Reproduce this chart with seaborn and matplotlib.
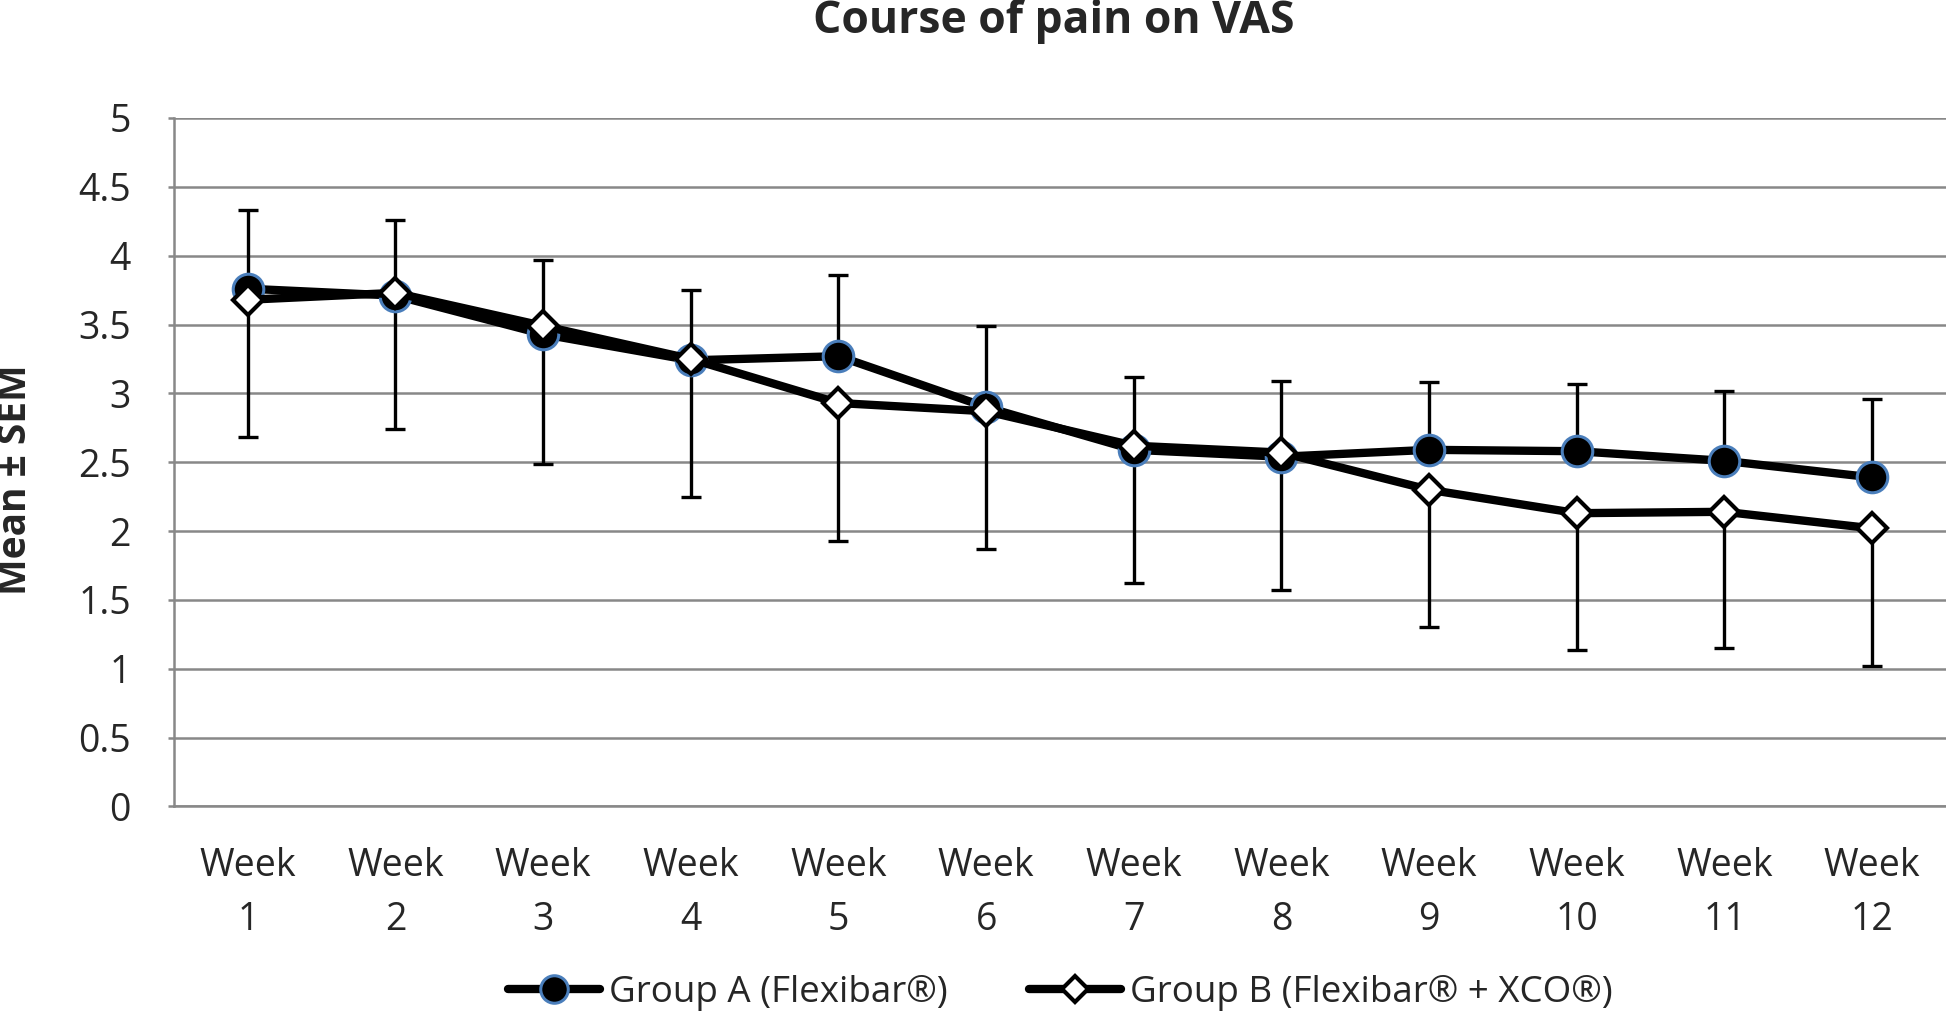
import numpy as np
import pandas as pd
import matplotlib
matplotlib.use("Agg")
import matplotlib.pyplot as plt
import seaborn as sns

weeks = list(range(1, 13))
week_labels = [f"Week\n{w}" for w in weeks]

mean_a = [3.76, 3.71, 3.43, 3.24, 3.27, 2.90, 2.59, 2.54, 2.59, 2.58, 2.51, 2.39]
sem_a = [0.57, 0.55, 0.54, 0.51, 0.59, 0.59, 0.53, 0.55, 0.49, 0.49, 0.51, 0.57]
mean_b = [3.68, 3.73, 3.49, 3.25, 2.93, 2.87, 2.62, 2.57, 2.30, 2.13, 2.14, 2.02]
sem_b = [1.00, 0.99, 1.00, 1.00, 1.00, 1.00, 1.00, 1.00, 1.00, 0.99, 0.99, 1.00]

label_a = "Group A (Flexibar®)"
label_b = "Group B (Flexibar® + XCO®)"

df_a = pd.DataFrame({"week": weeks, "mean": mean_a, "sem": sem_a})
df_b = pd.DataFrame({"week": weeks, "mean": mean_b, "sem": sem_b})

sns.set_theme(style="white")
plt.rcParams["font.family"] = ["Open Sans", "DejaVu Sans"]

grid_col = "#888888"

fig = plt.figure(figsize=(19.46, 10.17), dpi=100)
ax = fig.add_axes([0.0894, 0.207, 0.9106, 0.677])

# error bars: group A upward only, group B downward only (as in the original)
zeros = np.zeros(len(weeks))
ax.errorbar(df_a["week"], df_a["mean"], yerr=[zeros, df_a["sem"]], fmt="none",
            ecolor="black", elinewidth=2.4, capsize=7.2, capthick=2.4, zorder=2)
ax.errorbar(df_b["week"], df_b["mean"], yerr=[df_b["sem"], zeros], fmt="none",
            ecolor="black", elinewidth=2.4, capsize=7.2, capthick=2.4, zorder=2)

sns.lineplot(data=df_a, x="week", y="mean", ax=ax, color="black", lw=6,
             marker="o", markersize=22, markerfacecolor="black",
             markeredgecolor="#4A7EBB", markeredgewidth=2.2, label=label_a, zorder=3)
sns.lineplot(data=df_b, x="week", y="mean", ax=ax, color="black", lw=6,
             marker="D", markersize=15, markerfacecolor="white",
             markeredgecolor="black", markeredgewidth=3, label=label_b, zorder=4)

ax.set_xlim(0.5, 12.5)
ax.set_ylim(0, 5)
ax.set_yticks(np.arange(0, 5.01, 0.5))
ax.set_yticklabels([f"{v:g}" for v in np.arange(0, 5.01, 0.5)])
ax.set_xticks(weeks)
ax.set_xticklabels(week_labels, linespacing=1.55)

ax.yaxis.grid(True, color=grid_col, lw=1.8, zorder=0)
ax.set_axisbelow(True)
for s in ["top", "right"]:
    ax.spines[s].set_visible(False)
for s in ["left", "bottom"]:
    ax.spines[s].set_color(grid_col)
    ax.spines[s].set_linewidth(1.8)

ax.tick_params(axis="y", length=4, width=1.8, color=grid_col, pad=27,
               labelsize=27, left=True)
ax.tick_params(axis="x", length=0, pad=29, labelsize=27)

ax.set_xlabel("")
ax.set_ylabel("")
fig.text(0.0082, 0.528, "Mean ± SEM", rotation=90, ha="center", va="center",
         fontsize=28, fontweight="bold")

fig.text(0.5416, 0.979, "Course of pain on VAS", ha="center", va="center",
         fontsize=32, fontweight="bold")

handles, labels = ax.get_legend_handles_labels()
ax.get_legend().remove()
fig.legend(handles, labels, loc="center", bbox_to_anchor=(0.545, 0.024), ncol=2,
           frameon=False, fontsize=26.5, handlelength=2.5, handletextpad=0.25,
           columnspacing=2.2, markerscale=0.9)

fig.savefig("out.png", dpi=100)
